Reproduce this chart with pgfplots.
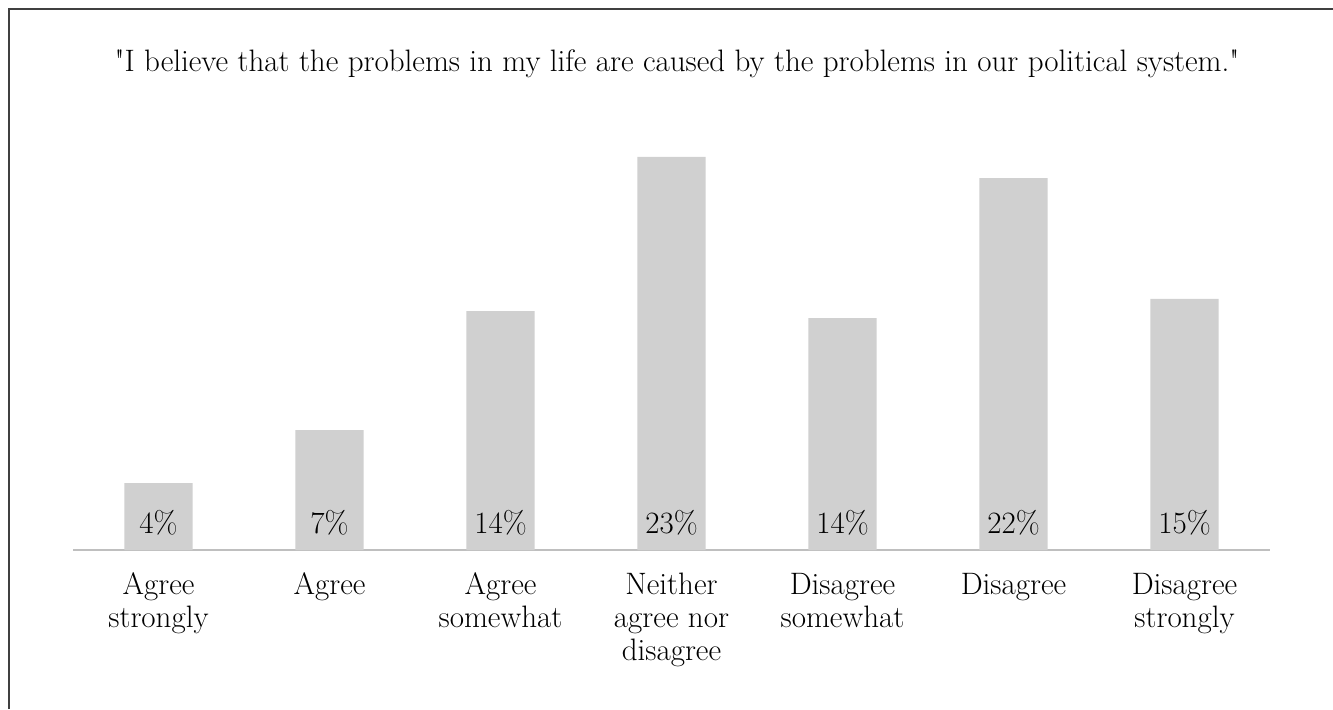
\documentclass[border=0pt]{standalone}
\usepackage{fontspec}
\setmainfont{Latin Modern Roman}[Ligatures=TeXOff]
\usepackage{pgfplots}
\pgfplotsset{compat=1.18}
\definecolor{barg}{HTML}{D0D0D0}
\definecolor{axg}{HTML}{BFBFBF}
\definecolor{frameg}{HTML}{404040}
\newcommand{\cf}{\fontsize{15.5}{16.5}\selectfont}
\begin{document}
\begin{tikzpicture}
\useasboundingbox (0,0) rectangle (666.5pt,354.5pt);
\draw[frameg, line width=0.8pt] (4.5pt,0) -- (4.5pt,350pt) -- (666.5pt,350pt);
\node[anchor=base, font=\cf, inner sep=0pt] at (338.5pt,319pt)
  {\textquotedbl I believe that the problems in my life are caused by the problems in our political system.\textquotedbl};
\begin{axis}[
  anchor=south west, at={(36.5pt,79.5pt)},
  scale only axis, width=598.5pt, height=213.6pt,
  xmin=-0.5, xmax=6.5, ymin=0, ymax=25,
  hide y axis,
  axis x line*=bottom,
  x axis line style={axg, line width=1pt, -},
  xtick={0,1,2,3,4,5,6},
  xticklabels={Agree\\strongly, Agree, Agree\\somewhat, Neither\\agree nor\\disagree, Disagree\\somewhat, Disagree, Disagree\\strongly},
  xtick style={draw=none},
  xticklabel style={align=center, anchor=north, yshift=-8pt, font=\cf},
  clip=false,
]
\addplot[ybar, bar width=0.4, fill=barg, draw=none] coordinates {
  (0,3.92) (1,7.02) (2,13.98) (3,23.0) (4,13.57) (5,21.77) (6,14.69)};
\addplot[draw=none, mark=none, nodes near coords, point meta=explicit symbolic,
  every node near coord/.style={anchor=base, yshift=8.5pt, inner sep=0pt, font=\cf, text=black}]
  coordinates {
  (0,0) [4\%] (1,0) [7\%] (2,0) [14\%] (3,0) [23\%] (4,0) [14\%] (5,0) [22\%] (6,0) [15\%]};
\end{axis}
\end{tikzpicture}
\end{document}
